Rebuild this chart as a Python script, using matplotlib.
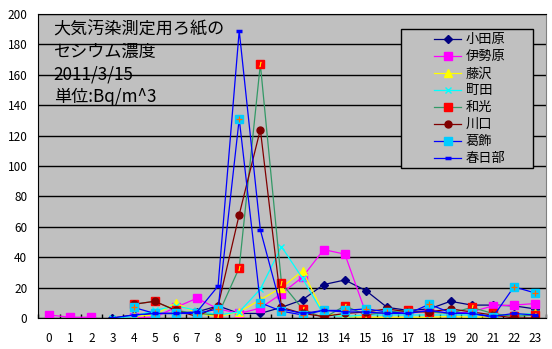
import numpy as np
import matplotlib
matplotlib.use("Agg")
import matplotlib.pyplot as plt
from matplotlib.patches import Rectangle
from matplotlib.ticker import MultipleLocator

plt.rcParams['font.family'] = ['Noto Sans CJK JP', 'DejaVu Sans']

nan = np.nan
hours = list(range(24))

odawara = [nan, nan, nan, 0, 2, 3, 3, 4, 8, 3, 3, 7, 12, 22, 25, 18, 7, 5, 6, 11, 8.5, 8.5, 8, 6]
isehara = [2, 0.5, 0.5, nan, 0.5, 0.5, 7, 13, 6, 3, 6.5, 16, 27, 45, 42, 3, 3, 4, 5, 3, 4, 8, 8.5, 9.5]
fujisawa = [nan, nan, nan, nan, 1, 2, 10, 3, 1, 4, 12, 20, 31, 3, 1, 0.5, 0.5, 0.5, 0.5, 1, 0.5, 1, 2, 3]
machida = [nan, nan, nan, 0, 1, 5, 8, 5, 2, 4, 19, 47, 26, 2, 1, 2, 2, 2, 2, 2, 2, 2, 2, 3]
wako = [nan, nan, nan, nan, 9, 11, 5, 3, 2, 33, 167, 23, 6, 0, 8, 2, 4, 5, 4, 3, 7, 3, 1, 2]
kawaguchi = [nan, nan, nan, nan, 9, 11, 5, 1, 8, 68, 124, 7, 3, 1, 3, 4, 6, 4, 4, 6, 4, 2, 0, 0]
katsushika = [nan, nan, nan, nan, 7, 3, 3, 3, 6, 131, 10, 4.5, 2, 5, 5, 6, 4, 3, 9, 3.5, 3, 0.5, 20.5, 16.5]
kasukabe = [nan, nan, nan, 0, 2, 3, 3, 4, 21, 189, 58, 6, 3, 5, 4, 4, 3, 3, 5, 3, 3, 1, 3, 2]

fig = plt.figure(figsize=(5.52, 3.49), dpi=100)
ax = fig.add_axes([0.0697, 0.0888, 0.9187, 0.8711])
ax.set_facecolor('#C0C0C0')

lw = 0.9
ax.plot(hours, odawara, color='#000080', lw=lw, marker='D', ms=4, mec='#000080', mfc='#000080', label='小田原')
ax.plot(hours, isehara, color='#FF00FF', lw=lw, marker='s', ms=5.5, mec='#FF00FF', mfc='#FF00FF', label='伊勢原')
ax.plot(hours, fujisawa, color='#FFFF00', lw=lw, marker='^', ms=6, mec='#FFFF00', mfc='#FFFF00', label='藤沢')
ax.plot(hours, machida, color='#00FFFF', lw=lw, marker='x', ms=5, mew=1, mec='#00FFFF', label='町田')
ax.plot(hours, wako, color='#339966', lw=lw, marker='s', ms=5.5, mec='#FF0000', mfc='#FF0000', label='和光')
ax.plot(hours, wako, ls='none', marker='$I$', ms=3.5, mec='#FFFF00', mfc='#FFFF00', mew=0.3)
ax.plot(hours, kawaguchi, color='#800000', lw=lw, marker='o', ms=5, mec='#800000', mfc='#800000', label='川口')
ax.plot(hours, katsushika, color='#0000FF', lw=lw, marker='s', ms=6, mec='#00CCFF', mfc='#00CCFF', label='葛飾')
ax.plot(hours, katsushika, ls='none', marker='+', ms=4, mew=0.9, mec='#FF6600')
ax.plot(hours, kasukabe, color='#0000FF', lw=lw, marker='_', ms=4, mew=2.5, mec='#0000FF', label='春日部')

ax.set_xlim(-0.5, 23.5)
ax.set_ylim(0, 200)
ax.yaxis.set_major_locator(MultipleLocator(20))
ax.set_xticks(hours)
ax.set_xticks(np.arange(-0.5, 24, 1), minor=True)
ax.grid(axis='y', color='black', lw=1)
ax.set_axisbelow(True)
ax.tick_params(axis='x', which='major', length=0, labelsize=8.5, pad=10)
ax.tick_params(axis='x', which='minor', direction='in', length=3, width=1, color='black')
ax.tick_params(axis='y', length=0, labelsize=8.5, pad=8)

for side in ['left', 'bottom', 'top']:
    ax.spines[side].set_color('black')
ax.spines['right'].set_color('#808080')

ax.text(0.22, 195.5, '大気汚染測定用ろ紙の\nセシウム濃度\n2011/3/15\n単位:Bq/m^3',
        fontsize=12.3, va='top', ha='left', linespacing=1.3)

# legend box drawn by hand, legend itself without frame
box = Rectangle((0.714, 0.494), 0.261, 0.456, transform=ax.transAxes,
                facecolor='#C0C0C0', edgecolor='black', lw=1, zorder=4)
ax.add_patch(box)
leg = ax.legend(loc='upper left', bbox_to_anchor=(0.780, 0.936), frameon=False,
                fontsize=9.5, handlelength=2.05, handletextpad=0.35, borderpad=0,
                labelspacing=0.3, borderaxespad=0)
leg.set_zorder(5)

fig.savefig('out.png', dpi=100)
